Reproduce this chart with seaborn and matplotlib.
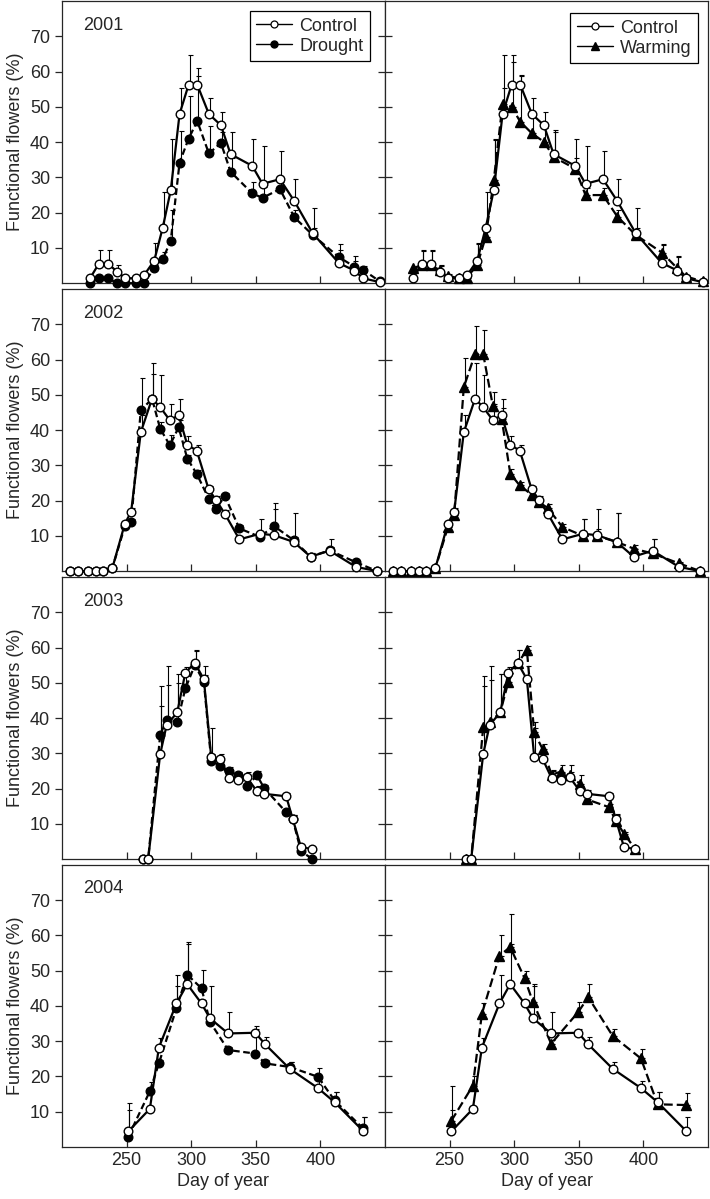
import numpy as np
import matplotlib
matplotlib.use('Agg')
import matplotlib.pyplot as plt
from matplotlib.lines import Line2D
import seaborn as sns

# ---- data ----
years = ['2001', '2002', '2003', '2004']

days_2001 = [221.7, 228.5, 235.8, 242.5, 249, 257, 263.4, 271.4, 278, 284.2, 291, 298, 304.7,
             313.7, 323, 330.5, 347.2, 355.2, 368.7, 379.8, 394, 414.3, 426.3, 433, 446]
ctrl_2001 = [1.4, 5.5, 5.5, 3.3, 1.4, 1.4, 2.2, 6.4, 15.8, 26.4, 48, 56.3, 56.3,
             48, 44.8, 36.6, 33.3, 28.2, 29.5, 23.3, 14.2, 5.7, 3.6, 1.4, 0.3]
ctrl_err_2001 = [0.5, 3.9, 3.9, 1.9, 0.5, 0.5, 0.8, 4.9, 10.2, 14.4, 7.5, 8.3, 2.5,
                 4.6, 3.8, 6.3, 7.7, 10.8, 8.0, 6.2, 7.0, 5.3, 4.1, 0.5, 0.3]
drought_2001 = [0, 1.4, 1.4, 0, 0, 0, 0, 4.2, 6.8, 12.1, 34.2, 41, 46,
                36.8, 39.8, 31.6, 25.5, 24.2, 26.7, 18.7, 13.7, 7.4, 4.7, 3.8, 0.5]
drought_err_2001 = [0.3, 0.5, 0.5, 0.3, 0.3, 0.3, 0.3, 1, 2, 8.7, 9, 12, 15,
                    7.7, 3, 4, 3.3, 3, 2, 2, 2, 2, 1.5, 1, 0.3]
warm_2001 = [4.2, 5.2, 5.2, 3.8, 2.1, 1.4, 1.6, 5.2, 13.2, 29.2, 50.9, 50, 45.8,
             42.5, 40.1, 35.8, 32.5, 25, 25, 18.9, 13.7, 8.7, 4.2, 1.9, 0.5]
warm_err_2001 = [0.5, 3.8, 3.8, 1, 0.5, 0.3, 0.3, 6, 3, 11.4, 13.7, 12.7, 13.4,
                 5, 4, 7.6, 3, 2, 2, 2, 2, 2.1, 3.3, 0.5, 0.3]

days_2002 = [206, 212.5, 220.5, 226, 232, 239, 248.7, 253.5, 261, 269.7, 276, 283.5, 290.3,
             297, 304.3, 313.5, 319, 326, 337.3, 353.3, 364, 379.2, 392.4, 407.1, 427.5, 444]
ctrl_2002 = [0, 0, 0, 0, 0, 0.9, 13.5, 16.8, 39.4, 48.9, 46.5, 42.8, 44.2,
             35.8, 34.2, 23.2, 20.3, 16.3, 9, 10.6, 10.2, 8.3, 4.1, 5.8, 1.2, 0]
ctrl_err_2002 = [0, 0, 0, 0, 0, 0.3, 1, 1, 5, 10, 9.2, 4.5, 4.7,
                 2.5, 1.6, 1, 1, 1, 1, 4.1, 7.5, 8.2, 1, 3.4, 0.5, 0]
drought_2002 = [0, 0, 0, 0, 0, 0.9, 12.8, 13.8, 45.6, 48.9, 40.4, 35.7, 40.8,
                31.9, 27.6, 20.6, 17.5, 21.3, 12.1, 9.7, 12.8, 8.8, 4.1, 5.9, 2.5, 0]
drought_err_2002 = [0, 0, 0, 0, 0, 0.3, 1, 1, 9.1, 7, 2, 2.8, 2,
                    1, 1, 1, 1, 1, 1, 1, 6.5, 1, 1, 1, 0.5, 0]
warm_2002 = [0, 0, 0, 0, 0, 0.8, 12.5, 15.8, 52.2, 61.6, 61.6, 46.8, 43.2,
             27.6, 24.3, 21.7, 19.6, 17.9, 12.5, 10, 10, 8.3, 6.4, 5, 2.2, 0]
warm_err_2002 = [0, 0, 0, 0, 0, 0.3, 1, 1, 8.2, 7.8, 6.8, 4, 3,
                 1.5, 1, 1, 1, 1, 1, 4.9, 2, 8.2, 1, 4.2, 0.5, 0]

days_2003 = [262.5, 266.7, 276, 281, 289.2, 295.5, 302.8, 309.8, 315.5, 322,
             329, 336, 343, 351, 356.5, 373.5, 378.5, 385, 393.5]
ctrl_2003 = [0, 0, 29.8, 38, 41.6, 52.9, 55.6, 51, 28.9, 28.4,
             22.9, 22.5, 23.2, 19.2, 18.5, 17.8, 11.5, 3.3, 2.9]
ctrl_err_2003 = [0, 0, 19.4, 16.8, 11, 1.5, 3.7, 3.8, 8.2, 1.4,
                 2, 2, 1.5, 1.5, 1, 1, 1, 0.5, 0.5]
drought_2003 = [0, 0, 35.2, 39.5, 38.8, 48.4, 55, 50.3, 27.9, 26.5,
                25.1, 23.7, 20.8, 23.7, 20.1, 13.3, 11.4, 2.2, 0.1]
drought_err_2003 = [0, 0, 8.3, 10, 11, 5, 4, 2, 2, 1,
                    1, 1, 1, 1.4, 1, 1, 1, 0.5, 0.5]
warm_2003 = [0, 0, 37.4, 38.8, 41.6, 50.3, 55.6, 59.3, 35.9, 31.2,
             23.9, 24.8, 23.7, 21.3, 16.9, 14.7, 10.9, 7.2, 2.9]
warm_err_2003 = [0, 0, 14.6, 12, 11, 3, 3.7, 1, 3, 1.5,
                 1.5, 2, 3, 2.5, 1, 1, 2, 0.5, 0.5]

days_2004 = [251.3, 268, 275, 288.6, 296.9, 308, 314.5, 328.6, 349.6, 357.3, 376.2, 398.1, 411, 432.9]
ctrl_2004 = [4.4, 10.8, 28.2, 40.7, 46.2, 40.7, 36.5, 32.2, 32.4, 29.1, 22.2, 16.7, 12.7, 4.6]
ctrl_err_2004 = [6, 0.5, 2.8, 8, 11.5, 1, 9.3, 6.1, 1, 2.1, 2, 2, 3, 4]
drought_2004 = [2.9, 15.8, 23.7, 39.4, 48.9, 45, 35.5, 27.5, 26.5, 23.7, 22.7, 19.9, 13.2, 5.3]
drought_err_2004 = [9.5, 2.7, 1, 6.4, 9.2, 5.1, 1, 1, 7.8, 1, 1.5, 2.6, 2.5, 3.3]
warm_2004 = [7.4, 17.4, 37.8, 54.3, 56.7, 47.9, 41.1, 29.3, 38.3, 42.5, 31.5, 25.1, 12.1, 11.9]
warm_err_2004 = [10, 2.8, 3, 5.7, 9.4, 1.9, 5.2, 1, 2.8, 3.8, 2.1, 2.6, 3.6, 3.3]

days = [days_2001, days_2002, days_2003, days_2004]
ctrl = [ctrl_2001, ctrl_2002, ctrl_2003, ctrl_2004]
ctrl_err = [ctrl_err_2001, ctrl_err_2002, ctrl_err_2003, ctrl_err_2004]
drought = [drought_2001, drought_2002, drought_2003, drought_2004]
drought_err = [drought_err_2001, drought_err_2002, drought_err_2003, drought_err_2004]
warm = [warm_2001, warm_2002, warm_2003, warm_2004]
warm_err = [warm_err_2001, warm_err_2002, warm_err_2003, warm_err_2004]

xticks = [250, 300, 350, 400]
yticks = [10, 20, 30, 40, 50, 60, 70]

sns.set_style('ticks')
plt.rcParams['font.family'] = ['Liberation Sans', 'DejaVu Sans']
plt.rcParams['font.size'] = 13

fig, axes = plt.subplots(4, 2, figsize=(7.10, 11.99), dpi=100, sharex=True, sharey=True)
fig.subplots_adjust(left=0.0873, right=0.9972, top=0.999, bottom=0.0434, wspace=0, hspace=0.021)


def draw_series(ax, x, y, err, ls, marker, face, z):
    x = np.asarray(x)
    y = np.asarray(y)
    ax.errorbar(x + 0.8, y, yerr=[np.zeros(len(y)), err], fmt='none', ecolor='black',
                elinewidth=0.8, capsize=1.8, capthick=0.8, zorder=z - 1, clip_on=False)
    sns.lineplot(x=x, y=y, ax=ax, color='black', linestyle=ls, linewidth=1.6,
                 marker=marker, markersize=6.2 if marker == 'o' else 7,
                 markerfacecolor=face, markeredgecolor='black', markeredgewidth=1,
                 zorder=z, clip_on=False, legend=False)


for i, yr in enumerate(years):
    for j in range(2):
        ax = axes[i, j]
        if j == 0:
            draw_series(ax, days[i], drought[i], drought_err[i], (0, (3, 1.6)), 'o', 'black', 3)
        else:
            draw_series(ax, days[i], warm[i], warm_err[i], (0, (4, 1.8)), '^', 'black', 3)
        draw_series(ax, days[i], ctrl[i], ctrl_err[i], '-', 'o', 'white', 5)

        ax.set_xlim(200, 450)
        ax.set_ylim(0, 80)
        ax.set_xticks(xticks)
        ax.set_yticks(yticks)
        for s in ax.spines.values():
            s.set_visible(True)
            s.set_linewidth(0.9)
        ax.tick_params(axis='x', direction='in', length=5, width=0.9, labelsize=13)
        if j == 0:
            ax.tick_params(axis='y', direction='out', length=5, width=0.9, labelsize=13)
            ax.set_ylabel('Functional flowers (%)', fontsize=13, labelpad=4)
            ax.text(0.065, 0.915, yr, transform=ax.transAxes, fontsize=13, va='center', ha='left')
        else:
            ax.tick_params(axis='y', direction='inout', length=10, width=0.9, labelleft=False)
            ax.set_ylabel('')
        if i == 3:
            ax.set_xlabel('Day of year', fontsize=13, labelpad=3)
        else:
            ax.set_xlabel('')

# legends (first row)
ctrl_handle = Line2D([], [], color='black', lw=1, marker='o', markersize=5,
                     markerfacecolor='white', markeredgecolor='black', markeredgewidth=0.9)
drought_handle = Line2D([], [], color='black', lw=1, marker='o', markersize=5,
                        markerfacecolor='black', markeredgecolor='black')
warm_handle = Line2D([], [], color='black', lw=1, marker='^', markersize=6,
                     markerfacecolor='black', markeredgecolor='black')
legend_sets = [([ctrl_handle, drought_handle], ['Control', 'Drought'], (1 - 15 / 323, 1 - 10 / 282)),
               ([ctrl_handle, warm_handle], ['Control', 'Warming'], (1 - 10 / 323, 1 - 12 / 282))]
for j, (hs, ls, anchor) in enumerate(legend_sets):
    leg = axes[0, j].legend(hs, ls, loc='upper right', bbox_to_anchor=anchor, borderaxespad=0,
                            fontsize=13, handlelength=2.0, handletextpad=0.4, labelspacing=0.18,
                            borderpad=0.35, fancybox=False, framealpha=1, edgecolor='black')
    leg.get_frame().set_linewidth(0.9)

fig.savefig('out.png', dpi=100)
